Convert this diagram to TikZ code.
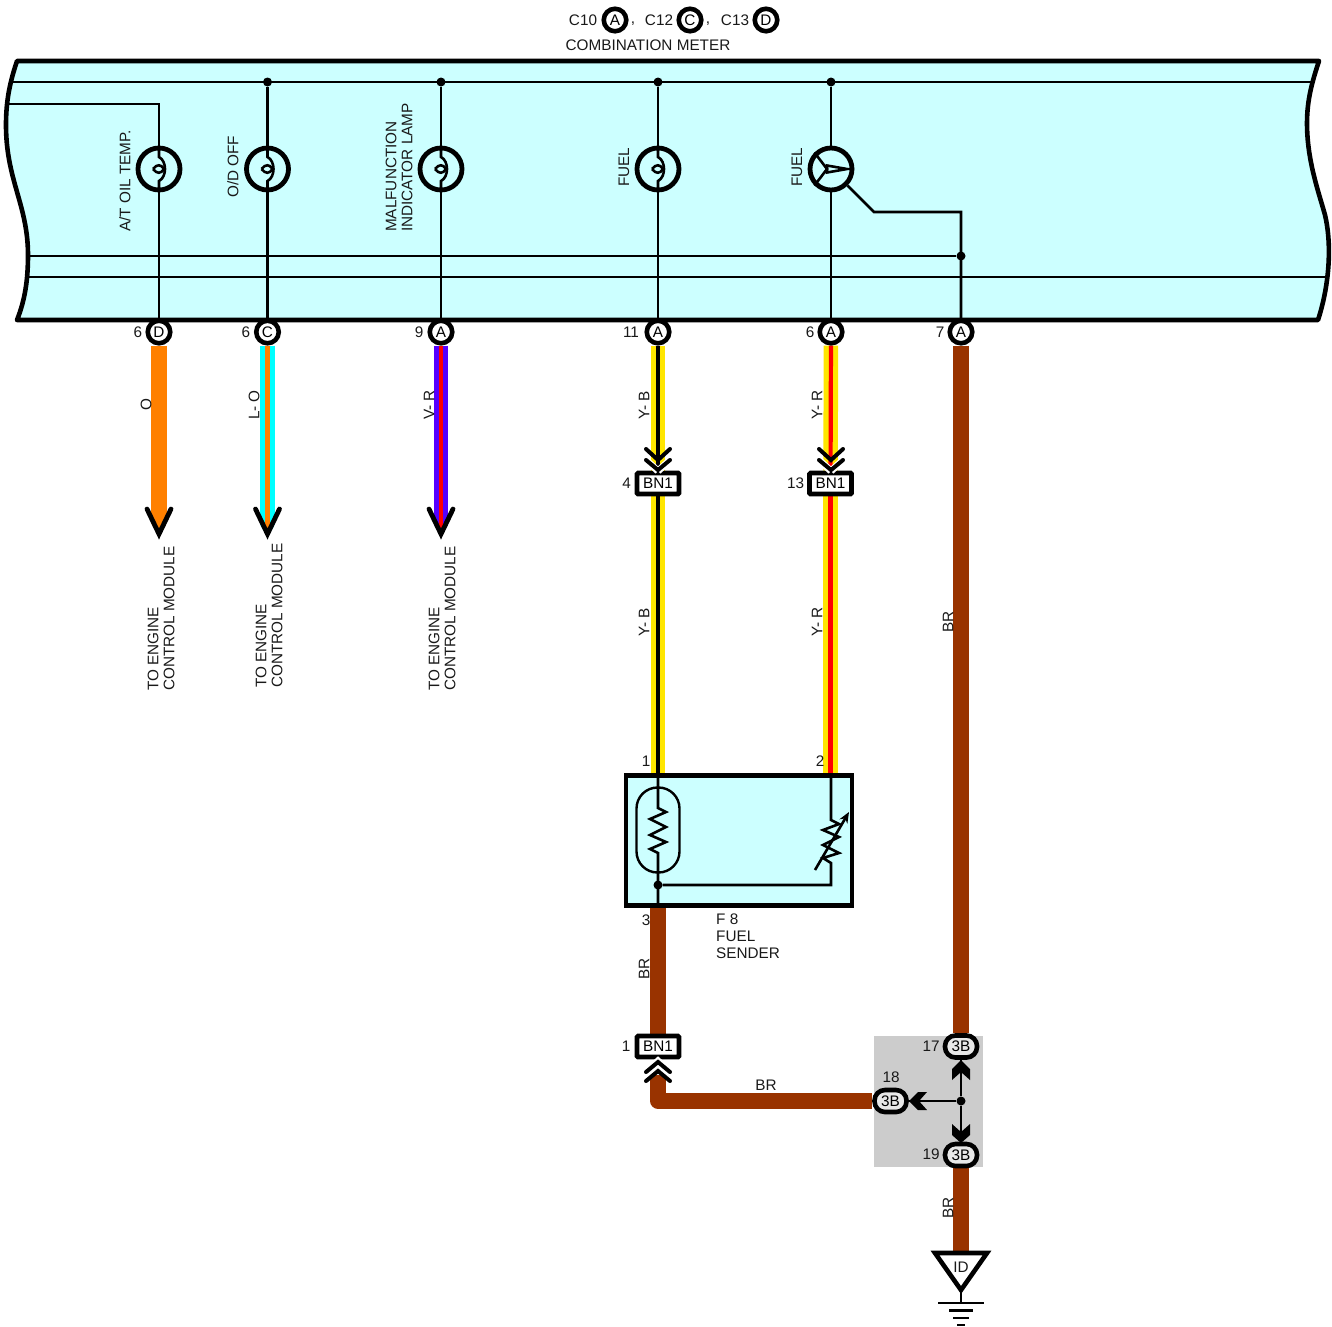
\documentclass[tikz,border=0pt]{standalone}
\usepackage{fontspec}
\setmainfont{Liberation Sans}
\usetikzlibrary{arrows.meta,calc}
\pgfdeclarelayer{panel}
\pgfdeclarelayer{wires}
\pgfsetlayers{panel,wires,main}
\definecolor{panelc}{HTML}{CCFFFF}
\definecolor{brownw}{HTML}{993300}
\definecolor{orangew}{HTML}{FF8000}
\definecolor{yellw}{HTML}{FFE600}
\definecolor{violw}{HTML}{5500FF}
\definecolor{cyanw}{HTML}{00FFFF}
\definecolor{greyb}{HTML}{CCCCCC}
\definecolor{ovalf}{HTML}{E8E8E8}
\tikzset{
  lab/.style={font=\fontsize{15.3}{16}\selectfont,inner sep=0pt,text=black!90,align=left},
  vlab/.style={lab,rotate=90},
  conn/.style={circle,draw=black,line width=4.6pt,fill=white,minimum size=22.5pt,inner sep=0pt,font=\fontsize{15.3}{16}\selectfont},
  bn/.style={rectangle,rounded corners=1pt,draw=black,line width=4.6pt,fill=white,minimum width=42pt,minimum height=21pt,inner sep=0pt,font=\fontsize{15.3}{16}\selectfont},
  oval/.style={rectangle,rounded corners=10.5pt,draw=black,line width=4.6pt,fill=ovalf,minimum width=32pt,minimum height=22pt,inner sep=0pt,font=\fontsize{15.3}{16}\selectfont},
  lampc/.style={circle,draw=black,line width=4.8pt,minimum size=42pt,inner sep=0pt},
  dotn/.style={circle,fill=black,minimum size=9pt,inner sep=0pt},
  thin wire/.style={draw=black,line width=2.6pt},
  guts/.style={draw=black,line width=2.6pt},
  chev/.style={draw=black,line width=4pt,line cap=round,line join=miter},
  lampguts/.pic={
    \draw[guts] (0,-21)--(0,-12) .. controls (8,-8) and (8,8) .. (0,12) -- (0,21);
    \draw[guts] (-6,0) .. controls (-2,-5) and (2,-5) .. (5,0) .. controls (2,5) and (-2,5) .. (-6,0);
  },
}
% two-colour wire from node to node: \wirepair{from}{to}{base}{stripe}
\newcommand{\wirepair}[4]{%
  \draw[#3,line width=14.5pt] (#1)--(#2);
  \draw[#4,line width=4.2pt] (#1)--(#2);}
% open arrow head (tip at named coordinate)
\newcommand{\openhead}[1]{%
  \draw[black,line width=4.8pt,line cap=round,line join=miter] ($(#1)+(-12,-25)$)--(#1)--($(#1)+(12,-25)$);}
\begin{document}
\begin{tikzpicture}[x=1pt,y=-1pt]
\useasboundingbox (0,0) rectangle (1332,1326);

% ---------- panel ----------
\begin{pgfonlayer}{panel}
\filldraw[fill=panelc,draw=black,line width=4.6pt,line join=round]
  (17,61) -- (1319,61)
  .. controls (1312,82) and (1307,100) .. (1307,123)
  .. controls (1307,160) and (1318,190) .. (1325,215)
  .. controls (1331,240) and (1331,280) .. (1318,320)
  -- (17,320)
  .. controls (25,300) and (28,280) .. (28,255)
  .. controls (28,205) and (6,180) .. (6,125)
  .. controls (6,100) and (10,82) .. (17,61) -- cycle;
\fill[greyb] (874,1036) rectangle (983,1167);
\end{pgfonlayer}

% ---------- named free ends ----------
\coordinate (busTopL) at (11,82);
\coordinate (busTopR) at (1312,82);
\coordinate (busMidL) at (28,256);
\coordinate (busLowL) at (28,277);
\coordinate (busLowR) at (1329,277);
\coordinate (oilL) at (7,104);
\coordinate (oilC) at (159,104);
\coordinate (bendA) at (874,212);
\coordinate (bendB) at (961,212);
\coordinate (tipD) at (159,534);
\coordinate (tipC) at (267.5,534);
\coordinate (tipV) at (441,534);
\coordinate (senderTL) at (658,776);
\coordinate (senderTR) at (831,776);
\coordinate (senderB) at (658,905);
\coordinate (senderZ) at (658,853);
\coordinate (senderZT) at (658,808);
\coordinate (varT) at (831,820);
\coordinate (varB) at (831,863);
\coordinate (varC) at (831,885);
\coordinate (bendW) at (658,1101);

% ---------- connectors and junctions ----------
\node[lab] at (583,20) {C10};
\node[conn] (topA) at (615,20) {A};
\node[lab] at (633,24) {,};
\node[lab] at (659,20) {C12};
\node[conn] (topC) at (690,20) {C};
\node[lab] at (708,24) {,};
\node[lab] at (735,20) {C13};
\node[conn] (topD) at (766,20) {D};
\node[lab] at (648,45) {COMBINATION METER};

\node[conn] (cD) at (159,332) {D};
\node[conn] (cC) at (267.5,332) {C};
\node[conn] (cV) at (441,332) {A};
\node[conn] (cYB) at (658,332) {A};
\node[conn] (cYR) at (831,332) {A};
\node[conn] (cBR) at (961,332) {A};

\node[lampc] (lD) at (159,169) {};
\node[lampc] (lC) at (267.5,169) {};
\node[lampc] (lV) at (441,169) {};
\node[lampc] (lF) at (658,169) {};
\node[lampc] (gauge) at (831,169) {};
\pic at (159,169) {lampguts};
\pic at (267.5,169) {lampguts};
\pic at (441,169) {lampguts};
\pic at (658,169) {lampguts};

\draw[guts] (gauge.north west)--(827,169)--(gauge.south west);
\draw[guts,line join=miter] (827,165.5)--(847,169)--(827,172.5)--cycle;

\node[dotn] (dC) at (267.5,82) {};
\node[dotn] (dV) at (441,82) {};
\node[dotn] (dF) at (658,82) {};
\node[dotn] (dG) at (831,82) {};
\node[dotn] (dBR) at (961,256) {};

\node[bn] (bYB) at (658,483.5) {BN1};
\node[bn] (bYR) at (830.5,483.5) {BN1};
\node[bn] (bBR) at (658,1046.5) {BN1};

\node[oval] (o17) at (961,1046.5) {3B};
\node[oval] (o18) at (890.5,1101) {3B};
\node[oval] (o19) at (961,1155) {3B};
\node[dotn] (dJ) at (961,1101) {};

% sender box
\node[draw=black,line width=4.6pt,minimum width=226pt,minimum height=129.5pt,inner sep=0pt,fill=panelc] (sender) at (739,840.5) {};
\node[draw=black,line width=2.4pt,rounded corners=21pt,minimum width=43pt,minimum height=85pt,inner sep=0pt] (capsule) at (658,830) {};
\node[dotn] (dS) at (658,885) {};
\draw[guts] (senderTL)--(senderZT)--(666,812)--(650,819)--(666,827)--(650,835)--(666,842)--(650,849)--(senderZ)--(senderB);
\draw[guts] (senderTR)--(varT)--(839,824)--(823,830)--(839,837)--(823,845)--(839,853)--(823,858)--(varB)--(varC)--(dS);
\draw[guts,-{Stealth[length=11pt,width=9pt]}] (815,870)--(849,812);

% ground
\path[draw=black,fill=white,line width=4.6pt,line join=miter] (935,1253)--(987,1253)--(961,1290)--cycle;
\coordinate (gndTop) at (961,1253);
\coordinate (gndTip) at (961,1290);
\coordinate (gndBar) at (961,1303);
\node[lab] (idl) at (961,1267) {ID};
\draw[thin wire] (gndTip)--(gndBar);
\draw[black,line width=2.6pt] (938,1303)--(984,1303);
\draw[black,line width=2.6pt] (949,1310.5)--(973,1310.5);
\draw[black,line width=2.6pt] (953,1318)--(969,1318);
\draw[black,line width=2.6pt] (957,1325)--(965,1325);

% ---------- wires ----------
\begin{pgfonlayer}{wires}
\draw[thin wire] (busTopL)--(busTopR);
\draw[thin wire] (busMidL)--(dBR);
\draw[thin wire] (busLowL)--(busLowR);
\draw[thin wire] (oilL)--(oilC)--(lD.north);
\draw[thin wire] (lD.south)--(cD);
\draw[thin wire] (dC)--(lC.north);
\draw[thin wire] (lC.south)--(cC);
\draw[thin wire] (dV)--(lV.north);
\draw[thin wire] (lV.south)--(cV);
\draw[thin wire] (dF)--(lF.north);
\draw[thin wire] (lF.south)--(cYB);
\draw[thin wire] (dG)--(gauge.north);
\draw[thin wire] (gauge.south)--(cYR);
\draw[thin wire] (gauge.south east)--(bendA)--(bendB)--(cBR);

% harness to arrow heads
\begin{scope}
  \clip (150,340) rectangle (168,521) (150,521)--(168,521)--(159,537)--cycle;
  \draw[orangew,line width=15.5pt] (cD)--(tipD);
\end{scope}
\begin{scope}
  \clip (258,340) rectangle (277,521) (258,521)--(277,521)--(267.5,537)--cycle;
  \wirepair{cC}{tipC}{cyanw}{orangew}
\end{scope}
\begin{scope}
  \clip (432,340) rectangle (450,521) (432,521)--(450,521)--(441,537)--cycle;
  \wirepair{cV}{tipV}{violw}{red}
\end{scope}
\wirepair{cYB}{bYB}{yellw}{black}
\wirepair{bYB}{sender.north -| bYB}{yellw}{black}
\wirepair{cYR}{bYR}{yellw}{red}
\wirepair{bYR}{sender.north -| bYR}{yellw}{red}
\draw[brownw,line width=15.5pt] (cBR)--(o17);
\draw[brownw,line width=15.5pt] (o19)--(gndTop);
\draw[brownw,line width=15.5pt] (sender.south -| bBR)--(bBR);
\draw[brownw,line width=15.5pt,line join=round] (658,1075)--(bendW)--(o18);
\draw[thin wire] (dJ)--(o17);
\draw[thin wire] (dJ)--(o19);
\draw[thin wire] (dJ)--(o18);
\end{pgfonlayer}

% ---------- arrow heads ----------
\openhead{tipD}
\openhead{tipC}
\openhead{tipV}

% chevrons, BN1 top pair
\foreach \cx in {658,831}{
  \draw[white,line width=7pt] (\cx-11,461)--(\cx,471);
  \draw[white,line width=7pt] (\cx+11,461)--(\cx,471);
  \draw[chev] (\cx-12,449)--(\cx,460)--(\cx+12,449);
  \draw[chev] (\cx-12,460)--(\cx,470)--(\cx+12,460);
}
% chevrons, BN1 lower
\draw[white,line width=7pt] (647,1071)--(658,1061)--(669,1071);
\fill[white] (645,1060) rectangle (671,1064);
\draw[chev] (646,1072)--(658,1062)--(670,1072);
\draw[chev] (646,1081)--(658,1071)--(670,1081);

% solid barbed heads, junction block
\fill[black] (961,1060)--(970,1069)--(970,1080)--(961,1072)--(952,1080)--(952,1069)--cycle;
\fill[black] (961,1143)--(970,1135)--(970,1124)--(961,1132)--(952,1124)--(952,1135)--cycle;
\fill[black] (909,1101)--(918,1092)--(927,1092)--(919,1101)--(927,1110)--(918,1110)--cycle;

% ---------- labels ----------
\node[vlab,anchor=west] at (125,232) {A/T OIL  TEMP.};
\node[vlab,anchor=west] at (233,198) {O/D OFF};
\node[vlab,anchor=west] at (399,232) {MALFUNCTION\\INDICATOR LAMP};
\node[vlab,anchor=west] at (624,187) {FUEL};
\node[vlab,anchor=west] at (797,187) {FUEL};

\node[lab] at (138,332) {6};
\node[lab] at (246,332) {6};
\node[lab] at (419,332) {9};
\node[lab] at (631,332) {11};
\node[lab] at (810,332) {6};
\node[lab] at (940,332) {7};
\node[lab] at (626.5,483) {4};
\node[lab] at (795.5,483) {13};
\node[lab] at (646,761) {1};
\node[lab] at (820,761) {2};
\node[lab] at (646,920) {3};
\node[lab] at (626,1046) {1};
\node[lab] at (931,1046) {17};
\node[lab] at (891,1077) {18};
\node[lab] at (931,1154) {19};

\node[vlab] at (146,405) {O};
\node[vlab] at (254,405) {L- O};
\node[vlab] at (429,405) {V- R};
\node[vlab] at (644,405) {Y- B};
\node[vlab] at (817,405) {Y- R};
\node[vlab] at (644,622) {Y- B};
\node[vlab] at (817,622) {Y- R};
\node[vlab] at (948,622) {BR};
\node[vlab] at (644,969) {BR};
\node[vlab] at (948,1208) {BR};
\node[lab] at (766,1085) {BR};

\node[vlab,anchor=west] at (161,691) {TO ENGINE\\CONTROL MODULE};
\node[vlab,anchor=west] at (269,688) {TO ENGINE\\CONTROL MODULE};
\node[vlab,anchor=west] at (442,691) {TO ENGINE\\CONTROL MODULE};

\node[lab,anchor=north west] at (716,914) {F 8\\[1pt]FUEL\\[1pt]SENDER};
\end{tikzpicture}
\end{document}
